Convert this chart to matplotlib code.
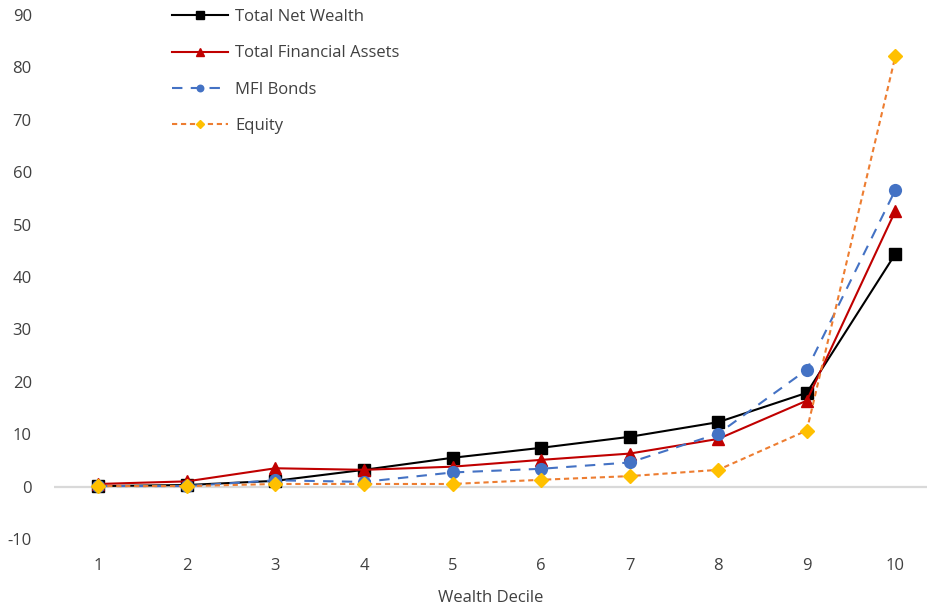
import matplotlib.pyplot as plt

plt.rcParams['font.family'] = ['Open Sans', 'DejaVu Sans']
plt.rcParams['axes.unicode_minus'] = False

# data
deciles = [1, 2, 3, 4, 5, 6, 7, 8, 9, 10]
net_wealth = [0.1, 0.3, 1.1, 3.2, 5.5, 7.4, 9.5, 12.3, 17.9, 44.4]
fin_assets = [0.5, 1.0, 3.5, 3.2, 3.8, 5.1, 6.3, 9.1, 16.4, 52.6]
mfi_bonds = [0.1, 0.1, 1.2, 0.9, 2.7, 3.4, 4.6, 10.1, 22.3, 56.6]
equity = [0.1, 0.1, 0.5, 0.5, 0.5, 1.3, 2.0, 3.2, 10.7, 82.1]
yticks = list(range(-10, 100, 10))

W, H = 928, 610
fig = plt.figure(figsize=(W / 100, H / 100), dpi=100)
ax = fig.add_axes([54 / W, (H - 539) / H, (W - 54) / W, 524 / H])

ax.axhline(0, color='#d9d9d9', lw=1.6, zorder=1)

ax.plot(deciles, net_wealth, color='black', lw=1.5, marker='s', ms=9,
        label='Total Net Wealth', zorder=3)
ax.plot(deciles, fin_assets, color='#c00000', lw=1.5, marker='^', ms=9,
        label='Total Financial Assets', zorder=4)
ax.plot(deciles, mfi_bonds, color='#4472c4', lw=1.5, ls=(0, (5, 4)), marker='o', ms=9.5,
        markeredgewidth=0, label='MFI Bonds', zorder=5)
ax.plot(deciles, equity, color='#ed7d31', lw=1.5, ls=(0, (2.5, 1.8)), marker='D', ms=7,
        markerfacecolor='#ffc000', markeredgecolor='#ffc000', label='Equity', zorder=6)

ax.set_xlim(0.5, 0.5 + (W - 54) / 88.56)
ax.set_ylim(-10, 90)
ax.set_yticks(yticks)
ax.set_xticks(deciles)
for s in ax.spines.values():
    s.set_visible(False)
ax.tick_params(axis='both', length=0, labelsize=12, colors='#404040')
ax.tick_params(axis='y', pad=16)
ax.tick_params(axis='x', pad=14)
ax.set_xlabel('Wealth Decile', fontsize=12, color='#404040', labelpad=11)

leg = ax.legend(loc='upper left', bbox_to_anchor=((172 - 54) / (W - 54) - 0.017, 1.04),
                frameon=False, fontsize=12, handlelength=3.35, markerscale=0.6,
                labelspacing=1.22, handletextpad=0.42)
for t in leg.get_texts():
    t.set_color('#404040')

fig.savefig('out.png', dpi=100)
